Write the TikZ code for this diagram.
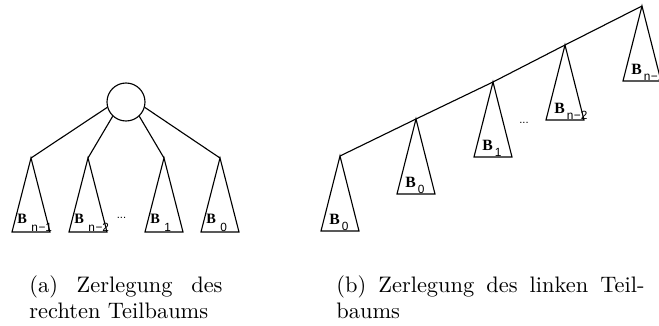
\documentclass[tikz,border=0pt]{standalone}
\usepackage{fontspec}
\newfontfamily\lblB{Liberation Serif}
\newfontfamily\lblS{Liberation Sans}
\usetikzlibrary{calc}
\newlength\pxu \setlength\pxu{0.4464pt}
\tikzset{
  tribox/.style={line width=0.5pt, line join=miter},
  conn/.style={line width=0.5pt},
  lbl/.style={inner sep=0pt, anchor=base west},
  captext/.style={inner sep=0pt, anchor=base west, font=\fontsize{10}{12}\selectfont},
  rootnode/.style={circle, draw, line width=0.5pt, minimum size=38\pxu, inner sep=0pt},
  dotlbl/.style={inner sep=0pt, anchor=base, font=\lblS\fontsize{5}{6}\selectfont}
}
\def\triH{75}\def\lblDx{-11}\def\lblDy{68}\def\Bsize{7}\def\subgap{0.9pt}\def\subdrop{2.7pt}
\newcommand\Bsub[1]{{\lblB\bfseries\fontsize{\Bsize}{\Bsize}\selectfont B}\kern\subgap\raisebox{-\subdrop}{\lblS\fontsize{5.3}{6}\selectfont #1}}
\newcommand\subtree[4]{%
  \coordinate (#1) at (#2,#3);
  \draw[tribox] (#1) -- ++(-19,\triH) -- ++(38,0) -- cycle;
  \node[lbl] (#1-l) at ($(#1)+(\lblDx,\lblDy)$) {\Bsub{#4}};
}
\begin{document}
\begin{tikzpicture}[x=0.4464pt, y=-0.4464pt]
\clip (0,0) rectangle (659,325);
% (a) left figure
\def\triH{74}\def\lblDx{-14}\def\lblDy{65}\def\Bsize{6.4}\def\subgap{2pt}\def\subdrop{3.6pt}
\node[rootnode] (c) at (126,102) {};
\subtree{a1}{31}{158}{n\kern0.2pt−1}
\subtree{a2}{88}{158}{n\kern0.2pt−2}
\subtree{a3}{164}{158}{1}
\subtree{a4}{220}{158}{0}
\draw[conn] (c.196) -- (a1);
\draw[conn] (c.227) -- (a2);
\draw[conn] (c.313) -- (a3);
\draw[conn] (c.344) -- (a4);
\node[dotlbl] (da) at (121.5,218) {...};
% (b) right figure
\def\triH{75}\def\lblDx{-11}\def\lblDy{68}\def\Bsize{7}\def\subgap{0.9pt}\def\subdrop{2.7pt}
\subtree{b1}{340}{156}{0}
\subtree{b2}{416}{119}{0}
\subtree{b3}{493}{82}{1}
\subtree{b4}{565}{45}{n\kern0.2pt−2}
\subtree{b5}{642}{6}{n\kern0.2pt−1}
\draw[conn] (b1) -- (b2) -- (b3) -- (b4) -- (b5);
\node[dotlbl] (db) at (524,123) {...};
% captions
\node[captext] (capa1) at (29,292) {\makebox[86.2pt][s]{(a) Zerlegung des}};
\node[captext] (capa2) at (29,318) {rechten Teilbaums};
\node[captext] (capb1) at (336,292) {\makebox[137.5pt][s]{(b) Zerlegung des linken Teil-}};
\node[captext] (capb2) at (336,318) {baums};
\end{tikzpicture}
\end{document}
